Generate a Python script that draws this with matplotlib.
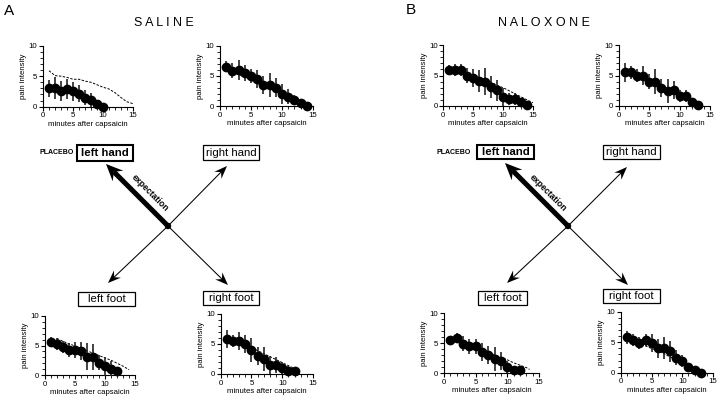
import matplotlib
matplotlib.use("Agg")
import matplotlib.pyplot as plt
from matplotlib.patches import Rectangle, Polygon, Circle
from matplotlib.ticker import MultipleLocator
import numpy as np

plt.rcParams["font.family"] = ["Liberation Sans", "DejaVu Sans"]

W, H = 720, 401

# ---- data: pain intensity (0-10) vs minutes after capsaicin ----
# SALINE
sal_lh_min = [1, 2, 3, 4, 5, 6, 7, 8, 9, 10]
sal_lh_mean = [3.0, 3.0, 2.6, 2.9, 2.5, 2.1, 1.5, 1.1, 0.5, 0.0]
sal_lh_err = [1.4, 1.8, 1.6, 1.6, 1.5, 1.4, 1.3, 1.1, 0.6, 0.3]
sal_lh_ref_min = [1, 2, 3, 4, 5, 6, 7, 8, 9, 10, 11, 12, 13, 14, 15]
sal_lh_ref = [5.9, 5.1, 5.0, 4.8, 4.5, 4.5, 4.2, 4.0, 3.6, 3.2, 2.9, 2.3, 1.5, 0.8, 0.5]

sal_rh_min = [1, 2, 3, 4, 5, 6, 7, 8, 9, 10, 11, 12, 13, 14]
sal_rh_mean = [6.5, 5.9, 6.0, 5.5, 5.0, 4.5, 3.5, 3.5, 3.1, 2.0, 1.6, 1.0, 0.5, 0.1]
sal_rh_err = [0.9, 1.2, 1.6, 1.3, 1.2, 1.5, 1.5, 2.0, 1.5, 1.6, 1.3, 0.8, 0.5, 0.2]
sal_rh_ref_min = [1, 2, 3, 4, 5, 6, 7, 8, 9, 10, 11, 12, 13, 14]
sal_rh_ref = [6.2, 5.6, 5.2, 4.8, 4.3, 3.8, 3.3, 3.0, 2.6, 2.0, 1.5, 1.0, 0.5, 0.1]

sal_lf_min = [1, 2, 3, 4, 5, 6, 7, 8, 9, 10, 11, 12]
sal_lf_mean = [5.65, 5.2, 4.7, 4.2, 4.2, 4.1, 3.1, 3.1, 2.1, 1.5, 1.1, 0.6]
sal_lf_err = [0.8, 1.0, 1.0, 1.2, 1.4, 1.5, 2.3, 2.2, 1.3, 1.6, 1.2, 0.5]
sal_lf_ref_min = [2, 3, 4, 5, 6, 7, 8, 9, 10, 11, 12, 13, 14]
sal_lf_ref = [6.2, 5.7, 5.3, 4.9, 4.5, 4.1, 3.7, 3.3, 2.9, 2.5, 2.0, 1.5, 0.9]

sal_rf_min = [1, 2, 3, 4, 5, 6, 7, 8, 9, 10, 11, 12]
sal_rf_mean = [5.9, 5.5, 5.5, 5.0, 4.0, 3.0, 2.5, 1.5, 1.5, 1.05, 0.55, 0.5]
sal_rf_err = [1.5, 1.0, 1.5, 1.5, 2.0, 1.5, 2.0, 1.5, 1.3, 1.0, 0.8, 0.5]
sal_rf_ref_min = [1, 2, 3, 4, 5, 6, 7, 8, 9, 10, 11, 12, 13]
sal_rf_ref = [6.0, 5.6, 5.2, 4.8, 4.4, 3.9, 3.4, 2.9, 2.4, 1.9, 1.4, 0.9, 0.4]

# NALOXONE
nal_lh_min = [1, 2, 3, 4, 5, 6, 7, 8, 9, 10, 11, 12, 13, 14]
nal_lh_mean = [5.9, 5.9, 5.9, 5.0, 4.6, 4.1, 4.0, 3.1, 2.6, 1.5, 1.15, 1.1, 0.7, 0.2]
nal_lh_err = [0.8, 1.0, 1.0, 1.2, 1.5, 1.8, 2.2, 1.8, 1.7, 1.5, 1.0, 1.0, 0.5, 0.3]
nal_lh_ref_min = [1, 2, 3, 4, 5, 6, 7, 8, 9, 10, 11, 12, 13, 14, 15]
nal_lh_ref = [6.0, 5.6, 5.3, 5.0, 4.8, 4.6, 4.4, 3.9, 3.4, 3.0, 2.5, 2.0, 1.5, 1.0, 0.55]

nal_rh_min = [1, 2, 3, 4, 5, 6, 7, 8, 9, 10, 11, 12, 13]
nal_rh_mean = [5.5, 5.5, 5.0, 5.0, 4.0, 4.0, 3.0, 2.5, 2.6, 1.65, 1.6, 0.7, 0.2]
nal_rh_err = [1.5, 1.0, 1.0, 1.5, 1.2, 2.0, 1.5, 2.0, 1.5, 1.0, 1.0, 0.5, 0.3]

nal_lf_min = [1, 2, 3, 4, 5, 6, 7, 8, 9, 10, 11, 12]
nal_lf_mean = [5.45, 5.85, 4.9, 4.45, 4.45, 3.5, 2.95, 2.4, 1.95, 1.0, 0.45, 0.45]
nal_lf_err = [0.8, 0.8, 1.2, 1.3, 1.3, 1.5, 1.5, 2.0, 1.5, 1.0, 0.6, 0.5]
nal_lf_ref_min = [2, 3, 4, 5, 6, 7, 8, 9, 10, 11, 12, 13, 13.5]
nal_lf_ref = [5.6, 5.2, 4.8, 4.3, 3.9, 3.5, 3.0, 2.6, 2.2, 1.7, 1.3, 0.9, 0.6]

nal_rf_min = [1, 2, 3, 4, 5, 6, 7, 8, 9, 10, 11, 12, 13]
nal_rf_mean = [5.8, 5.4, 4.95, 5.4, 4.95, 4.0, 4.0, 3.5, 2.5, 1.9, 1.0, 0.45, 0.0]
nal_rf_err = [1.0, 1.0, 1.0, 1.0, 1.5, 1.5, 1.8, 1.8, 1.2, 1.0, 0.5, 0.5, 0.2]
nal_rf_ref_min = [1, 2, 3, 4, 5, 6, 7, 8, 9, 10, 11, 12, 13]
nal_rf_ref = [5.6, 5.2, 4.8, 4.4, 4.0, 3.6, 3.1, 2.6, 2.1, 1.6, 1.1, 0.5, 0.0]

fig = plt.figure(figsize=(W / 100, H / 100), dpi=100)

# overlay in pixel units for the diagram
ov = fig.add_axes([0, 0, 1, 1])
ov.set_xlim(0, W)
ov.set_ylim(H, 0)
ov.axis("off")


def inset(box, mins, mean, err, ref_min=None, ref=None):
    x0, x1, yt, yb = box
    ax = fig.add_axes([x0 / W, 1 - yb / H, (x1 - x0) / W, (yb - yt) / H])
    if ref is not None:
        ax.plot(ref_min, ref, color="black", lw=0.7, ls=(0, (2.5, 1.5)), zorder=1)
    ax.errorbar(mins, mean, yerr=err, fmt="o", color="black", ms=6,
                ecolor="#222222", elinewidth=1.2, capsize=0, zorder=3, clip_on=False)
    ax.set_xlim(0, 15)
    ax.set_ylim(0, 10)
    ax.patch.set_alpha(0)
    for s in ["top", "right"]:
        ax.spines[s].set_visible(False)
    for s in ["left", "bottom"]:
        ax.spines[s].set_linewidth(0.8)
    ax.set_xticks([0, 5, 10, 15])
    ax.set_yticks([0, 5, 10])
    ax.xaxis.set_minor_locator(MultipleLocator(1))
    ax.yaxis.set_minor_locator(MultipleLocator(1))
    ax.tick_params(which="major", direction="out", length=3, width=0.8,
                   labelsize=5.7, pad=1)
    ax.tick_params(which="minor", direction="out", length=2, width=0.6)
    ax.set_xlabel("minutes after capsaicin", fontsize=5.6, labelpad=1)
    ax.set_ylabel("pain intensity", fontsize=5.6, labelpad=1)
    return ax


def arrow(start, tip, lw, hl, hw):
    sx, sy = start
    tx, ty = tip
    d = np.hypot(tx - sx, ty - sy)
    ux, uy = (tx - sx) / d, (ty - sy) / d
    px, py = -uy, ux
    bx, by = tx - ux * hl * 0.65, ty - uy * hl * 0.65
    ov.plot([sx, bx], [sy, by], color="black", lw=lw, solid_capstyle="butt")
    pts = [(tx, ty),
           (tx - ux * hl + px * hw / 2, ty - uy * hl + py * hw / 2),
           (bx, by),
           (tx - ux * hl - px * hw / 2, ty - uy * hl - py * hw / 2)]
    ov.add_patch(Polygon(pts, closed=True, facecolor="black", edgecolor="none"))


def label_box(bounds, text, bold=False):
    x0, y0, x1, y1 = bounds
    ov.add_patch(Rectangle((x0, y0), x1 - x0, y1 - y0, fill=False,
                           edgecolor="black", lw=1.5 if bold else 0.9))
    ov.text((x0 + x1) / 2, (y0 + y1) / 2, text, ha="center", va="center",
            fontsize=8.2, fontweight="bold" if bold else "normal")


# ---- panel A: saline ----
ov.text(9, 11, "A", fontsize=11, ha="center", va="center")
ov.text(164, 23, "S A L I N E", fontsize=9, ha="center", va="center")
inset((43, 133, 45.7, 106.7), sal_lh_min, sal_lh_mean, sal_lh_err, sal_lh_ref_min, sal_lh_ref)
inset((220, 313, 45.7, 106.3), sal_rh_min, sal_rh_mean, sal_rh_err, sal_rh_ref_min, sal_rh_ref)
inset((45, 135, 316, 375), sal_lf_min, sal_lf_mean, sal_lf_err, sal_lf_ref_min, sal_lf_ref)
inset((220.7, 313, 314, 374), sal_rf_min, sal_rf_mean, sal_rf_err, sal_rf_ref_min, sal_rf_ref)

# ---- panel B: naloxone ----
ov.text(411, 10, "B", fontsize=11, ha="center", va="center")
ov.text(544, 23, "N A L O X O N E", fontsize=9, ha="center", va="center")
inset((443.3, 533, 45, 106), nal_lh_min, nal_lh_mean, nal_lh_err, nal_lh_ref_min, nal_lh_ref)
inset((619, 710, 45, 106), nal_rh_min, nal_rh_mean, nal_rh_err)
inset((444, 539, 313, 373), nal_lf_min, nal_lf_mean, nal_lf_err, nal_lf_ref_min, nal_lf_ref)
inset((621, 713, 312, 372.7), nal_rf_min, nal_rf_mean, nal_rf_err, nal_rf_ref_min, nal_rf_ref)

# ---- cross diagrams ----
diagrams = [
    dict(c=(168, 226), tips=[(106, 164), (227, 166), (108, 283), (228, 285)],
         boxes=[(77, 145, 133, 161), (203, 145, 259, 160), (78, 292, 135, 306), (203, 291, 259, 305)],
         placebo=(57, 153), expect=(150, 193)),
    dict(c=(568, 226), tips=[(505, 163), (627, 167), (507, 283), (628, 285)],
         boxes=[(477, 145, 534, 159), (603, 145, 660, 159), (478, 291, 527, 305), (603, 289, 660, 303)],
         placebo=(454, 153), expect=(548, 193)),
]
names = ["left hand", "right hand", "left foot", "right foot"]

for dg in diagrams:
    c = dg["c"]
    for i, tip in enumerate(dg["tips"]):
        if i == 0:
            arrow(c, tip, 3.6, 17, 15)
        else:
            arrow(c, tip, 0.75, 13, 10)
    ov.add_patch(Circle(c, 2.5, color="black"))
    for i, (b, n) in enumerate(zip(dg["boxes"], names)):
        label_box(b, n, bold=(i == 0))
    ov.text(*dg["placebo"], "PLACEBO", fontsize=5, fontweight="bold",
            ha="center", va="center")
    ov.text(*dg["expect"], "expectation", fontsize=6.2, fontweight="bold",
            ha="center", va="center", rotation=-45, rotation_mode="anchor")

fig.savefig("out.png", dpi=100)
